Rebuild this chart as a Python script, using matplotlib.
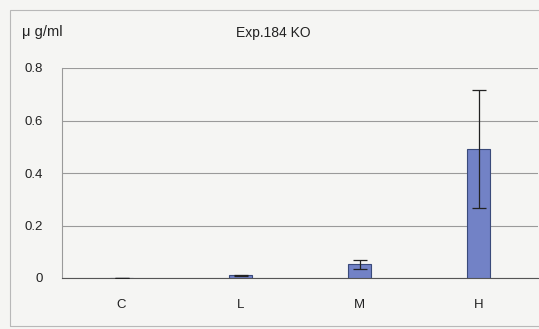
import matplotlib
matplotlib.use("Agg")
import matplotlib.pyplot as plt
from matplotlib.patches import Rectangle

categories = ["C", "L", "M", "H"]
values = [0.001, 0.01, 0.052, 0.49]
errors = [0.0, 0.002, 0.018, 0.225]
yticks = [0, 0.2, 0.4, 0.6, 0.8]
yticklabels = ["0", "0.2", "0.4", "0.6", "0.8"]

plt.rcParams["font.family"] = ["Liberation Sans", "DejaVu Sans"]

W, H = 539, 329
fig = plt.figure(figsize=(W / 100, H / 100), dpi=100)
fig.patch.set_facecolor("#f5f5f3")

# outer chart frame
fig.patches.append(Rectangle((10 / W, 0.01), 1.2, 1 - 10 / H - 0.01,
                             transform=fig.transFigure, fill=False,
                             edgecolor="#b8b8b8", linewidth=0.8))

ax = fig.add_axes([62 / W, 1 - 278 / H, (538 - 62) / W, 210 / H])
ax.set_facecolor("#f5f5f3")

x = list(range(len(categories)))
ax.bar(x, values, width=0.2, color="#7282c6", edgecolor="#3a4a7a",
       linewidth=0.8, zorder=3)
ax.errorbar(x, values, yerr=errors, fmt="none", ecolor="#222222",
            elinewidth=0.9, capsize=5, capthick=0.9, zorder=4)

ax.set_xlim(-0.5, 3.5)
ax.set_ylim(0, 0.8)
ax.set_yticks(yticks)
ax.set_yticklabels(yticklabels)
ax.set_xticks(x)
ax.set_xticklabels(categories)
ax.tick_params(axis="both", length=0, labelsize=9.5, colors="#222222")
ax.tick_params(axis="y", pad=14)
ax.tick_params(axis="x", pad=15)
for lab in ax.get_yticklabels():
    lab.set_horizontalalignment("right")
ax.grid(axis="y", color="#9a9a9a", linewidth=0.8, zorder=0)
for side in ["top", "right"]:
    ax.spines[side].set_visible(False)
ax.spines["left"].set_color("#9a9a9a")
ax.spines["bottom"].set_color("#555555")
ax.spines["left"].set_linewidth(0.8)

fig.text(22 / W, 1 - 32 / H, "μ g/ml", fontsize=10.5, va="center", ha="left",
         color="#222222")
fig.text(273 / W, 1 - 33 / H, "Exp.184 KO", fontsize=10, va="center",
         ha="center", color="#222222")

fig.savefig("out.png", dpi=100, facecolor=fig.get_facecolor())
